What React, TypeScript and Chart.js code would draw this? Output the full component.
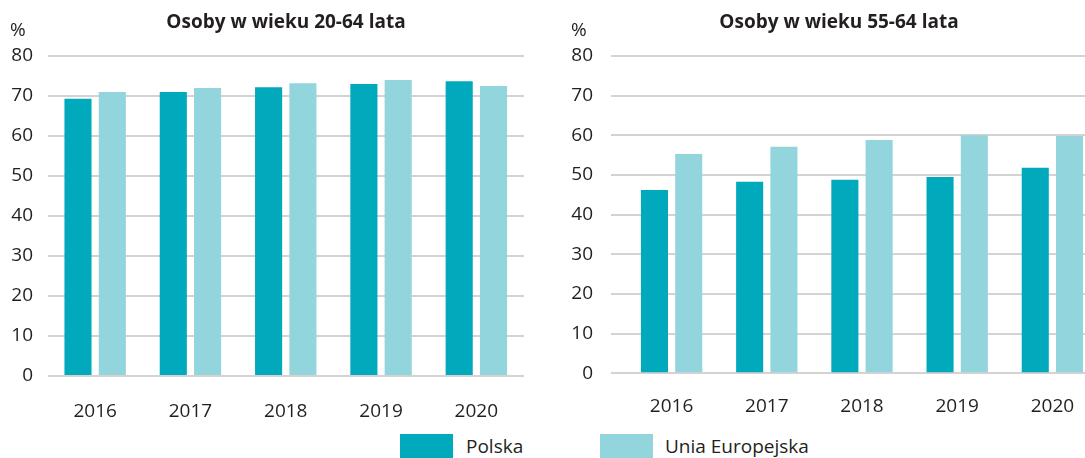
import React, { useEffect, useRef } from "react";
import { Chart, registerables } from "chart.js";

Chart.register(...registerables);

// ---- data ----
const years = ["2016", "2017", "2018", "2019", "2020"];
const polska2064 = [69.3, 71.0, 72.2, 73.0, 73.7];
const ue2064 = [71.0, 72.0, 73.2, 74.0, 72.5];
const polska5564 = [46.2, 48.3, 48.8, 49.5, 51.8];
const ue5564 = [55.3, 57.1, 58.8, 60.0, 59.8];
const seriesNames = ["Polska", "Unia Europejska"];
const titles = ["Osoby w wieku 20-64 lata", "Osoby w wieku 55-64 lata"];
const yMin = 0;
const yMax = 80;
const yStep = 10;
const unitLabel = "%";

const COLOR_PL = "#00a9bb";
const COLOR_UE = "#93d5dd";
const GRID = "#d3d3d3";
const TEXT = "#231f20";
const FONT = "'Open Sans', 'Noto Sans', sans-serif";

type Geo = {
  left: number;
  width: number;
  height: number;
  padTop: number;
  padRight: number;
  yWidth: number;
  yTickLen: number;
  yPad: number;
  xHeight: number;
  xPad: number;
};

function BarChart({ a, b, geo }: { a: number[]; b: number[]; geo: Geo }) {
  const ref = useRef<HTMLCanvasElement | null>(null);
  useEffect(() => {
    if (!ref.current) return;
    const chart = new Chart(ref.current, {
      type: "bar",
      data: {
        labels: years,
        datasets: [
          {
            label: seriesNames[0],
            data: a,
            backgroundColor: COLOR_PL,
            borderWidth: 0,
            categoryPercentage: 0.72,
            barPercentage: 0.79,
          },
          {
            label: seriesNames[1],
            data: b,
            backgroundColor: COLOR_UE,
            borderWidth: 0,
            categoryPercentage: 0.72,
            barPercentage: 0.79,
          },
        ],
      },
      options: {
        responsive: false,
        animation: false,
        devicePixelRatio: 1,
        layout: {
          padding: { top: geo.padTop, right: geo.padRight, left: 0, bottom: 0 },
        },
        plugins: {
          legend: { display: false },
          title: { display: false },
          tooltip: { enabled: false },
        },
        scales: {
          x: {
            type: "category",
            offset: true,
            grid: { display: false },
            border: { display: false },
            ticks: {
              color: TEXT,
              font: { family: FONT, size: 19 },
              padding: geo.xPad,
              maxRotation: 0,
            },
            afterFit: (s: any) => {
              s.height = geo.xHeight;
            },
          },
          y: {
            min: yMin,
            max: yMax,
            border: { display: false },
            grid: {
              color: GRID,
              lineWidth: 2,
              drawTicks: geo.yTickLen > 0,
              tickLength: geo.yTickLen,
            },
            ticks: {
              stepSize: yStep,
              color: TEXT,
              font: { family: FONT, size: 19 },
              padding: geo.yPad,
            },
            afterFit: (s: any) => {
              s.width = geo.yWidth;
            },
          },
        },
      },
    });
    return () => chart.destroy();
  }, []);
  return (
    <canvas
      ref={ref}
      width={geo.width}
      height={geo.height}
      style={{ position: "absolute", left: geo.left, top: 0, width: geo.width, height: geo.height }}
    />
  );
}

const leftGeo: Geo = {
  left: 0,
  width: 540,
  height: 430,
  padTop: 56,
  padRight: 16,
  yWidth: 47.5,
  yTickLen: 0,
  yPad: 14.5,
  xHeight: 54,
  xPad: 16,
};

const rightGeo: Geo = {
  left: 545,
  width: 560,
  height: 430,
  padTop: 56,
  padRight: 5,
  yWidth: 79,
  yTickLen: 13,
  yPad: 18,
  xHeight: 56.7,
  xPad: 14,
};

const textStyle: React.CSSProperties = {
  position: "absolute",
  fontFamily: FONT,
  fontSize: 19,
  color: TEXT,
  whiteSpace: "nowrap",
  lineHeight: "26px",
};

export default function App() {
  return (
    <div
      style={{
        position: "fixed",
        left: 0,
        top: 0,
        width: 1085,
        height: 458,
        overflow: "hidden",
        background: "#ffffff",
      }}
    >
      <BarChart a={polska2064} b={ue2064} geo={leftGeo} />
      <BarChart a={polska5564} b={ue5564} geo={rightGeo} />

      <div style={{ ...textStyle, left: 166, width: 240, top: 8, textAlign: "center", fontWeight: 700 }}>
        {titles[0]}
      </div>
      <div style={{ ...textStyle, left: 719, width: 240, top: 8, textAlign: "center", fontWeight: 700 }}>
        {titles[1]}
      </div>
      <div style={{ ...textStyle, left: 10, top: 16 }}>{unitLabel}</div>
      <div style={{ ...textStyle, left: 571, top: 16 }}>{unitLabel}</div>

      <div style={{ position: "absolute", left: 400, top: 434, width: 53, height: 30, background: COLOR_PL }} />
      <div style={{ ...textStyle, left: 466, top: 433 }}>{seriesNames[0]}</div>
      <div style={{ position: "absolute", left: 600, top: 434, width: 53, height: 30, background: COLOR_UE }} />
      <div style={{ ...textStyle, left: 665, top: 433 }}>{seriesNames[1]}</div>
    </div>
  );
}
